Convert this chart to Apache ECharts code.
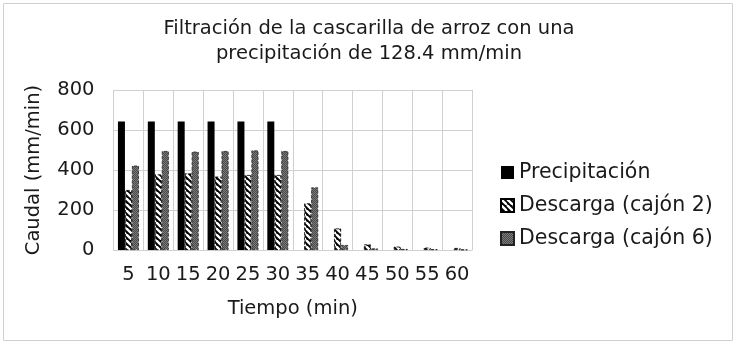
<!DOCTYPE html>
<html><head><meta charset="utf-8">
<script src="https://cdn.jsdelivr.net/npm/echarts@6/dist/echarts.min.js"></script>
<style>html,body{margin:0;padding:0;background:#fff}#c{width:737px;height:346px}</style>
</head><body><div id="c"></div>
<script>
const categories = ['5','10','15','20','25','30','35','40','45','50','55','60'];
const precipitacion = [642,642,642,642,642,642,0,0,0,0,0,0];
const cajon2 = [300,378,383,367,375,375,233,108,28,17,12,10];
const cajon6 = [422,495,492,495,498,495,313,25,8,5,4,2];
const seriesNames = ['Precipitación','Descarga (cajón 2)','Descarga (cajón 6)'];
const yTicks = {min:0, max:800, interval:200};

function hatch(){
  const c = document.createElement('canvas'); c.width = 6; c.height = 6;
  const g = c.getContext('2d');
  g.fillStyle = '#000'; g.fillRect(0,0,6,6);
  g.strokeStyle = '#fff'; g.lineWidth = 2.4;
  for (let k=-6;k<=12;k+=6){ g.beginPath(); g.moveTo(k,0); g.lineTo(k+6,6); g.stroke(); }
  return c;
}
function dots(){
  const c = document.createElement('canvas'); c.width = 2; c.height = 2;
  const g = c.getContext('2d');
  g.fillStyle = '#7a7a7a'; g.fillRect(0,0,2,2);
  g.fillStyle = '#4a4a4a'; g.fillRect(0,0,1,1); g.fillRect(1,1,1,1);
  return c;
}
const font = 'DejaVu Sans';
const fs = 19.5;
const chart = echarts.init(document.getElementById('c'));
chart.setOption({
  animation:false,
  backgroundColor:'#fff',
  textStyle:{fontFamily:font},
  graphic:[{type:'rect',shape:{x:3.5,y:3.5,width:729,height:337},style:{fill:'none',stroke:'#d0d0d0',lineWidth:1}}],
  title:{text:'Filtración de la cascarilla de arroz con una\nprecipitación de 128.4 mm/min',left:364,textAlign:'center',top:11,
    textStyle:{fontFamily:font,fontSize:fs,fontWeight:'normal',color:'#1a1a1a',lineHeight:25}},
  legend:{orient:'vertical',left:495,top:157,itemWidth:13,itemHeight:13,itemGap:12,icon:'rect',
    textStyle:{fontFamily:font,fontSize:20.5,color:'#1a1a1a'},data:seriesNames},
  grid:{left:113.5,right:265,top:90,bottom:96,containLabel:false},
  xAxis:{type:'category',data:categories,
    name:'Tiempo (min)',nameLocation:'middle',nameGap:49,
    nameTextStyle:{fontFamily:font,fontSize:fs,color:'#1a1a1a'},
    axisLine:{show:true,lineStyle:{color:'#d0d0d0'}},axisTick:{show:false},
    axisLabel:{fontFamily:font,fontSize:fs,color:'#1a1a1a',margin:15,interval:0},
    splitLine:{show:true,lineStyle:{color:'#d0d0d0'}}},
  yAxis:{type:'value',min:yTicks.min,max:yTicks.max,interval:yTicks.interval,
    name:'Caudal (mm/min)',nameLocation:'middle',nameGap:70,
    nameTextStyle:{fontFamily:font,fontSize:fs,color:'#1a1a1a'},
    axisLine:{show:false},axisTick:{show:false},
    axisLabel:{fontFamily:font,fontSize:fs,color:'#1a1a1a',margin:19},
    splitLine:{show:true,lineStyle:{color:'#d0d0d0'}}},
  series:[
    {name:seriesNames[0],type:'bar',data:precipitacion,barWidth:7,barGap:'0%',itemStyle:{color:'#000'}},
    {name:seriesNames[1],type:'bar',data:cajon2,barWidth:7,barGap:'0%',itemStyle:{color:{image:hatch(),repeat:'repeat'},borderColor:'#000',borderWidth:0.8,borderType:'dashed'}},
    {name:seriesNames[2],type:'bar',data:cajon6,barWidth:7,barGap:'0%',itemStyle:{color:{image:dots(),repeat:'repeat'},borderColor:'#222',borderWidth:0.8,borderType:'dashed'}}
  ]
});
</script></body></html>
